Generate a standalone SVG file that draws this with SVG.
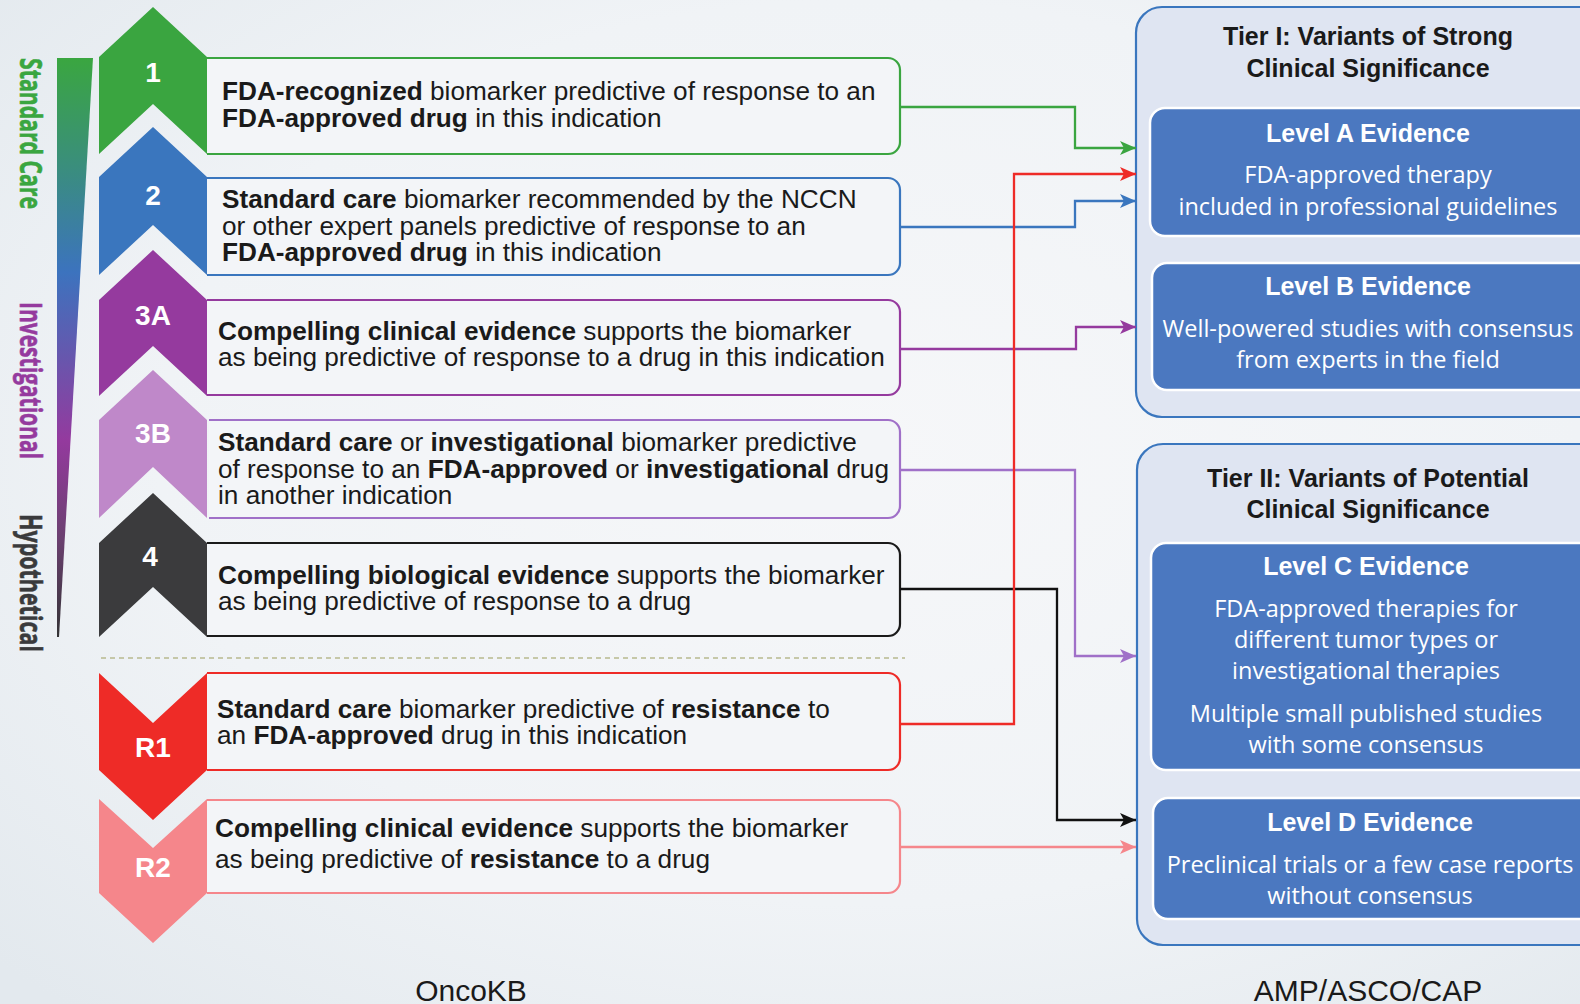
<svg xmlns="http://www.w3.org/2000/svg" width="1580" height="1004" viewBox="0 0 1580 1004">
<defs>
  <radialGradient id="bg" cx="0.55" cy="0.45" r="0.75">
    <stop offset="0" stop-color="#f6f7f9"/>
    <stop offset="0.6" stop-color="#f0f3f6"/>
    <stop offset="1" stop-color="#e3e9ee"/>
  </radialGradient>
  <linearGradient id="bar" x1="0" y1="58" x2="0" y2="637" gradientUnits="userSpaceOnUse">
    <stop offset="0" stop-color="#3aa640"/>
    <stop offset="0.18" stop-color="#3a8f7a"/>
    <stop offset="0.37" stop-color="#3c73be"/>
    <stop offset="0.52" stop-color="#6856ad"/>
    <stop offset="0.66" stop-color="#943a9e"/>
    <stop offset="0.83" stop-color="#6b4070"/>
    <stop offset="1" stop-color="#333335"/>
  </linearGradient>
  <marker id="aGreen" markerWidth="16" markerHeight="14" refX="16" refY="7" orient="auto" markerUnits="userSpaceOnUse"><path d="M0,0 L16,7 L0,14 L4,7 z" fill="#3aa540"/></marker>
  <marker id="aRed" markerWidth="16" markerHeight="14" refX="16" refY="7" orient="auto" markerUnits="userSpaceOnUse"><path d="M0,0 L16,7 L0,14 L4,7 z" fill="#ee2b27"/></marker>
  <marker id="aBlue" markerWidth="16" markerHeight="14" refX="16" refY="7" orient="auto" markerUnits="userSpaceOnUse"><path d="M0,0 L16,7 L0,14 L4,7 z" fill="#3a76be"/></marker>
  <marker id="aPurple" markerWidth="16" markerHeight="14" refX="16" refY="7" orient="auto" markerUnits="userSpaceOnUse"><path d="M0,0 L16,7 L0,14 L4,7 z" fill="#953a9e"/></marker>
  <marker id="aLav" markerWidth="16" markerHeight="14" refX="16" refY="7" orient="auto" markerUnits="userSpaceOnUse"><path d="M0,0 L16,7 L0,14 L4,7 z" fill="#a070c8"/></marker>
  <marker id="aBlack" markerWidth="16" markerHeight="14" refX="16" refY="7" orient="auto" markerUnits="userSpaceOnUse"><path d="M0,0 L16,7 L0,14 L4,7 z" fill="#111111"/></marker>
  <marker id="aPink" markerWidth="16" markerHeight="14" refX="16" refY="7" orient="auto" markerUnits="userSpaceOnUse"><path d="M0,0 L16,7 L0,14 L4,7 z" fill="#f5868b"/></marker>
</defs>
<style>
  .card { fill: #f3f5f8; stroke-width: 2.2; }
  .txt { font-family: "Liberation Sans", Arial, sans-serif; font-size: 26.2px; fill: #1a1a1a; }
  .b { font-weight: bold; }
  .num { font-family: "Liberation Sans", Arial, sans-serif; font-size: 28px; font-weight: bold; fill: #ffffff; text-anchor: middle; }
  .side { font-family: "Open Sans", "Liberation Sans", sans-serif; font-size: 31px; font-weight: bold; stroke-width: 0.6; }
  .tier { fill: #dfe5f2; stroke: #3a76be; stroke-width: 2.2; }
  .tiertitle { font-family: "Liberation Sans", Arial, sans-serif; font-size: 25px; font-weight: bold; fill: #1a1a1a; text-anchor: middle; }
  .level { fill: #4b78c0; stroke: #ffffff; stroke-width: 2.5; }
  .lvtitle { font-family: "Liberation Sans", Arial, sans-serif; font-size: 25px; font-weight: bold; fill: #ffffff; text-anchor: middle; }
  .lvbody { font-family: "Open Sans", "Liberation Sans", sans-serif; font-size: 23.5px; fill: #ffffff; text-anchor: middle; }
  .foot { font-family: "Liberation Sans", Arial, sans-serif; font-size: 30px; fill: #1a1a1a; text-anchor: middle; }
  .conn { fill: none; stroke-width: 2.3; }
</style>
<rect x="0" y="0" width="1580" height="1004" fill="url(#bg)"/>

<g id="scale">
  <polygon points="57,58 93,58 59,637 57,637" fill="url(#bar)"/>
  <text class="side" fill="#3aa640" stroke="#3aa640" transform="translate(20,58) rotate(90)" textLength="151" lengthAdjust="spacingAndGlyphs">Standard Care</text>
  <text class="side" fill="#953a9e" stroke="#953a9e" transform="translate(20,302) rotate(90)" textLength="157" lengthAdjust="spacingAndGlyphs">Investigational</text>
  <text class="side" fill="#3a3a3c" stroke="#3a3a3c" transform="translate(20,514) rotate(90)" textLength="138" lengthAdjust="spacingAndGlyphs">Hypothetical</text>
</g>

<line x1="101" y1="658" x2="905" y2="658" stroke="#b8b98f" stroke-width="1.5" stroke-dasharray="5 4"/>

<g id="level1">
  <path class="card" stroke="#3aa540" d="M207,58 H888 A12,12 0 0 1 900,70 V142 A12,12 0 0 1 888,154 H207"/>
  <polygon points="153,7 207,57 207,154 153,104 99,154 99,57" fill="#3aa540"/>
  <text class="num" x="153" y="82">1</text>
  <text class="txt" x="222" y="100"><tspan class="b">FDA-recognized</tspan> biomarker predictive of response to an</text>
  <text class="txt" x="222" y="127"><tspan class="b">FDA-approved drug</tspan> in this indication</text>
</g>

<g id="level2">
  <path class="card" stroke="#3a76be" d="M207,178 H888 A12,12 0 0 1 900,190 V263 A12,12 0 0 1 888,275 H207"/>
  <polygon points="153,127 207,177 207,275 153,225 99,275 99,177" fill="#3a76be"/>
  <text class="num" x="153" y="205">2</text>
  <text class="txt" x="222" y="208"><tspan class="b">Standard care</tspan> biomarker recommended by the NCCN</text>
  <text class="txt" x="222" y="235">or other expert panels predictive of response to an</text>
  <text class="txt" x="222" y="261"><tspan class="b">FDA-approved drug</tspan> in this indication</text>
</g>

<g id="level3A">
  <path class="card" stroke="#953a9e" d="M207,300 H888 A12,12 0 0 1 900,312 V383 A12,12 0 0 1 888,395 H207"/>
  <polygon points="153,250 207,300 207,396 153,346 99,396 99,300" fill="#953a9e"/>
  <text class="num" x="153" y="325">3A</text>
  <text class="txt" x="218" y="340"><tspan class="b">Compelling clinical evidence</tspan> supports the biomarker</text>
  <text class="txt" x="218" y="366">as being predictive of response to a drug in this indication</text>
</g>

<g id="level3B">
  <path class="card" stroke="#a070c8" d="M209,420 H888 A12,12 0 0 1 900,432 V506 A12,12 0 0 1 888,518 H209"/>
  <polygon points="153,370 207,420 207,518 153,467 99,518 99,420" fill="#bf88c9"/>
  <text class="num" x="153" y="443">3B</text>
  <text class="txt" x="218" y="451"><tspan class="b">Standard care</tspan> or <tspan class="b">investigational</tspan> biomarker predictive</text>
  <text class="txt" x="218" y="478">of response to an <tspan class="b">FDA-approved</tspan> or <tspan class="b">investigational</tspan> drug</text>
  <text class="txt" x="218" y="504">in another indication</text>
</g>

<g id="level4">
  <path class="card" stroke="#1a1a1a" d="M207,543 H888 A12,12 0 0 1 900,555 V624 A12,12 0 0 1 888,636 H207"/>
  <polygon points="153,493 207,543 207,637 153,587 99,637 99,543" fill="#3b3b3d"/>
  <text class="num" x="150" y="566">4</text>
  <text class="txt" x="218" y="584"><tspan class="b">Compelling biological evidence</tspan> supports the biomarker</text>
  <text class="txt" x="218" y="610">as being predictive of response to a drug</text>
</g>

<g id="levelR1">
  <path class="card" stroke="#ee2b27" d="M207,673 H888 A12,12 0 0 1 900,685 V758 A12,12 0 0 1 888,770 H207"/>
  <polygon points="99,673 153,723 207,673 207,770 153,820 99,770" fill="#ee2b27"/>
  <text class="num" x="153" y="757">R1</text>
  <text class="txt" x="217" y="718"><tspan class="b">Standard care</tspan> biomarker predictive of <tspan class="b">resistance</tspan> to</text>
  <text class="txt" x="217" y="744">an <tspan class="b">FDA-approved</tspan> drug in this indication</text>
</g>

<g id="levelR2">
  <path class="card" stroke="#f5868b" d="M207,800 H888 A12,12 0 0 1 900,812 V881 A12,12 0 0 1 888,893 H207"/>
  <polygon points="99,799 153,848 207,799 207,893 153,943 99,893" fill="#f5868b"/>
  <text class="num" x="153" y="877">R2</text>
  <text class="txt" x="215" y="837"><tspan class="b">Compelling clinical evidence</tspan> supports the biomarker</text>
  <text class="txt" x="215" y="868">as being predictive of <tspan class="b">resistance</tspan> to a drug</text>
</g>

<g id="tier1">
  <rect class="tier" x="1136" y="7" width="490" height="410" rx="26"/>
  <text class="tiertitle" x="1368" y="45">Tier I: Variants of Strong</text>
  <text class="tiertitle" x="1368" y="77">Clinical Significance</text>
  <g id="levelA">
    <rect class="level" x="1150" y="108" width="460" height="128" rx="15"/>
    <text class="lvtitle" x="1368" y="142">Level A Evidence</text>
    <text class="lvbody" x="1368" y="183">FDA-approved therapy</text>
    <text class="lvbody" x="1368" y="215">included in professional guidelines</text>
  </g>
  <g id="levelB">
    <rect class="level" x="1152" y="263" width="460" height="127" rx="15"/>
    <text class="lvtitle" x="1368" y="295">Level B Evidence</text>
    <text class="lvbody" x="1368" y="337">Well-powered studies with consensus</text>
    <text class="lvbody" x="1368" y="368">from experts in the field</text>
  </g>
</g>

<g id="tier2">
  <rect class="tier" x="1137" y="444" width="490" height="501" rx="26"/>
  <text class="tiertitle" x="1368" y="487">Tier II: Variants of Potential</text>
  <text class="tiertitle" x="1368" y="518">Clinical Significance</text>
  <g id="levelC">
    <rect class="level" x="1151" y="543" width="460" height="227" rx="15"/>
    <text class="lvtitle" x="1366" y="575">Level C Evidence</text>
    <text class="lvbody" x="1366" y="617">FDA-approved therapies for</text>
    <text class="lvbody" x="1366" y="648">different tumor types or</text>
    <text class="lvbody" x="1366" y="679">investigational therapies</text>
    <text class="lvbody" x="1366" y="722">Multiple small published studies</text>
    <text class="lvbody" x="1366" y="753">with some consensus</text>
  </g>
  <g id="levelD">
    <rect class="level" x="1153" y="798" width="460" height="121" rx="15"/>
    <text class="lvtitle" x="1370" y="831">Level D Evidence</text>
    <text class="lvbody" x="1370" y="873">Preclinical trials or a few case reports</text>
    <text class="lvbody" x="1370" y="904">without consensus</text>
  </g>
</g>

<g id="connectors">
  <polyline class="conn" stroke="#3aa540" points="900,107 1075,107 1075,148 1136,148" marker-end="url(#aGreen)"/>
  <polyline class="conn" stroke="#3a76be" points="900,227 1075,227 1075,201 1136,201" marker-end="url(#aBlue)"/>
  <polyline class="conn" stroke="#953a9e" points="900,349 1076,349 1076,327 1136,327" marker-end="url(#aPurple)"/>
  <polyline class="conn" stroke="#a070c8" points="900,470 1075,470 1075,656 1136,656" marker-end="url(#aLav)"/>
  <polyline class="conn" stroke="#111111" points="900,589 1057,589 1057,820 1136,820" marker-end="url(#aBlack)"/>
  <polyline class="conn" stroke="#ee2b27" points="900,724 1014,724 1014,174 1136,174" marker-end="url(#aRed)"/>
  <polyline class="conn" stroke="#f5868b" points="900,847 1136,847" marker-end="url(#aPink)"/>
</g>

<text class="foot" x="471" y="1001">OncoKB</text>
<text class="foot" x="1368" y="1001">AMP/ASCO/CAP</text>
</svg>
